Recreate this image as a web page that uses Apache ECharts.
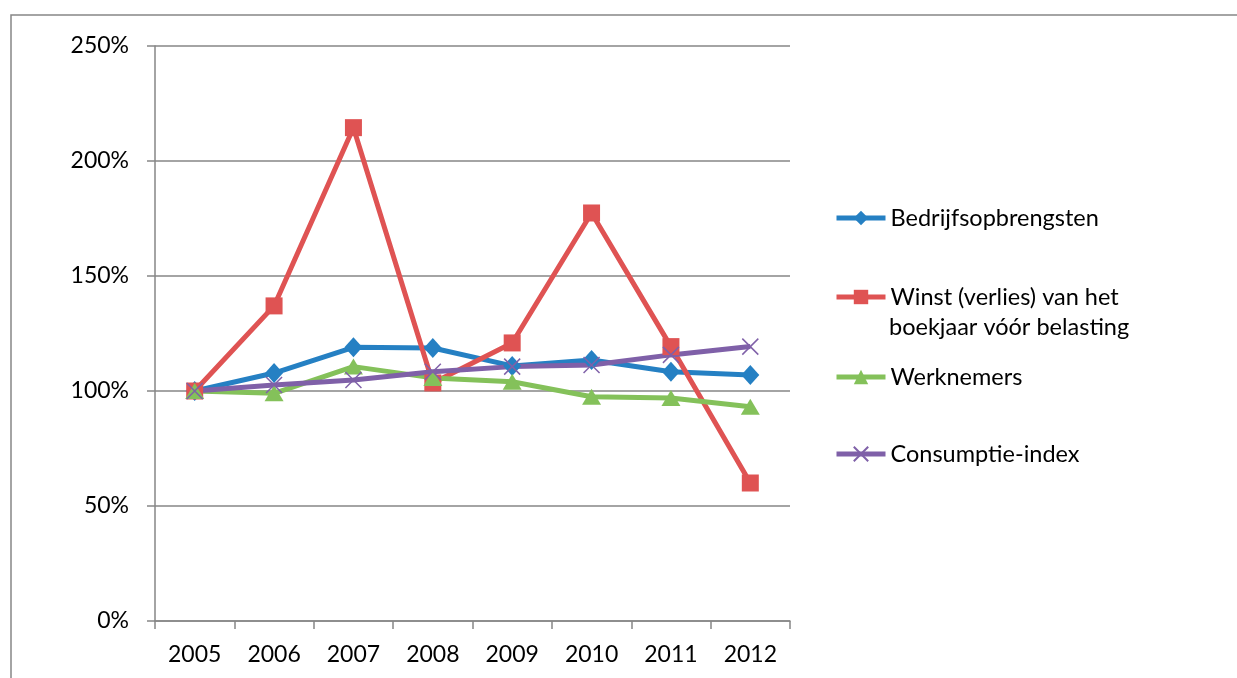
<!DOCTYPE html>
<html>
<head>
<meta charset="utf-8">
<script src="https://cdn.jsdelivr.net/npm/echarts@6/dist/echarts.min.js"></script>
<style>
  html, body { margin: 0; padding: 0; background: #fff; }
  #chart { width: 1237px; height: 678px; }
</style>
</head>
<body>
<div id="chart"></div>
<script>
// jaren en reeksen (index, 2005 = 100%)
const years = ['2005', '2006', '2007', '2008', '2009', '2010', '2011', '2012'];
const bedrijfsopbrengsten = [100, 107.8, 119, 118.7, 110.9, 113.5, 108.4, 107];
const winst = [100, 137, 214.5, 103.5, 120.9, 177.4, 119.3, 60];
const werknemers = [100, 99, 110.6, 105.7, 104, 97.5, 97, 93.2];
const consumptie = [100, 102.6, 104.8, 108.4, 110.6, 111.3, 115.7, 119.3];
const yTicks = [0, 50, 100, 150, 200, 250];

const FONT = 'Lato';
const names = ['Bedrijfsopbrengsten', 'Winst (verlies) van het', 'Werknemers', 'Consumptie-index'];
const colors = ['#2580C3', '#DF5353', '#84C15A', '#7F60A8'];
const crossPath = 'path://M0,0L10,10M10,0L0,10';

function mkSeries(name, data, color, symbol, size, extra) {
  return Object.assign({
    name: name,
    type: 'line',
    data: data,
    symbol: symbol,
    symbolSize: size,
    lineStyle: { color: color, width: 5 },
    itemStyle: { color: color },
    animation: false
  }, extra || {});
}

// een legenda per item, omdat de afstanden ongelijk zijn
const legendTops = [217, 296, 376, 453];
const legends = names.map((n, i) => ({
  data: [n],
  left: 829,
  top: legendTops[i] - 16,
  itemWidth: 49,
  itemHeight: 18,
  itemGap: 2,
  lineStyle: { width: 5 },
  textStyle: { fontFamily: FONT, fontSize: 23.5, color: '#000' }
}));

const chart = echarts.init(document.getElementById('chart'));
chart.setOption({
  animation: false,
  backgroundColor: '#fff',
  textStyle: { fontFamily: FONT },
  grid: { left: 155, top: 46, right: 447, bottom: 57 },
  legend: legends,
  graphic: [
    {
      type: 'polyline',
      shape: { points: [[11, 700], [11, 15], [1240, 15]] },
      style: { stroke: '#868686', lineWidth: 1.5, fill: null }
    },
    {
      type: 'text',
      left: 889,
      top: 315,
      style: { text: 'boekjaar vóór belasting', font: '23.5px ' + FONT, fill: '#000' }
    }
  ],
  xAxis: {
    type: 'category',
    data: years,
    boundaryGap: true,
    axisLine: { lineStyle: { color: '#868686', width: 1.5 } },
    axisTick: { show: true, length: 8, lineStyle: { color: '#868686', width: 1.5 } },
    axisLabel: { color: '#000', fontSize: 23, fontFamily: FONT, margin: 22 }
  },
  yAxis: {
    type: 'value',
    min: yTicks[0],
    max: yTicks[yTicks.length - 1],
    interval: 50,
    axisLine: { show: true, lineStyle: { color: '#868686', width: 1.5 } },
    axisTick: { show: true, length: 8, lineStyle: { color: '#868686', width: 1.5 } },
    splitLine: { lineStyle: { color: '#868686', width: 1.5 } },
    axisLabel: { color: '#000', fontSize: 23, fontFamily: FONT, margin: 26, formatter: v => v + '%' }
  },
  series: [
    mkSeries(names[0], bedrijfsopbrengsten, colors[0], 'diamond', [18, 20]),
    mkSeries(names[1], winst, colors[1], 'rect', 17),
    mkSeries(names[2], werknemers, colors[2], 'triangle', [19, 16]),
    mkSeries(names[3], consumptie, colors[3], crossPath, 16, {
      itemStyle: { color: 'rgba(0,0,0,0)', borderColor: colors[3], borderWidth: 1.5 }
    })
  ]
});
</script>
</body>
</html>
